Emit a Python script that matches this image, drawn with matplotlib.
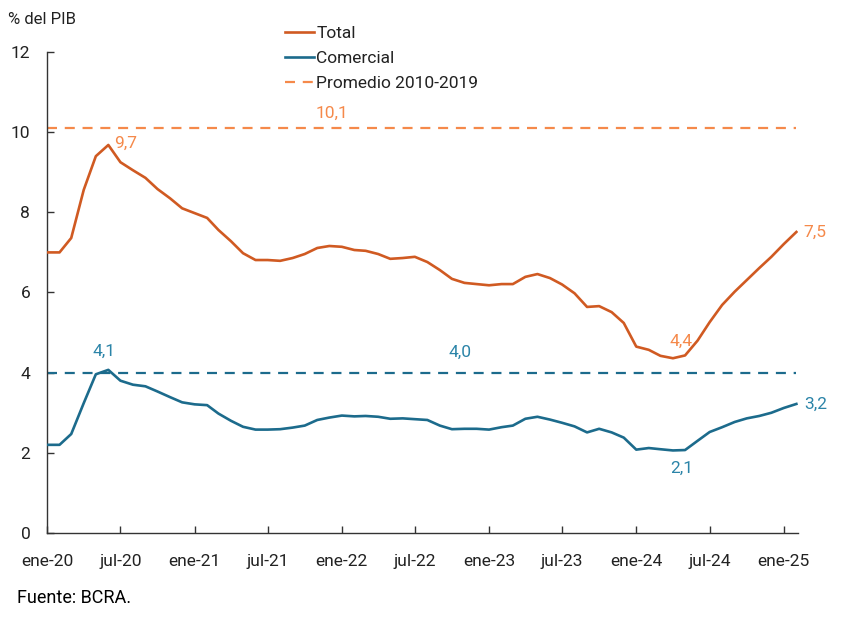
import pandas as pd
import matplotlib.pyplot as plt
import matplotlib.dates as mdates

plt.rcParams['font.family'] = ['Roboto', 'DejaVu Sans']

# monthly data, ene-20 to feb-25
months = pd.date_range('2020-01-01', '2025-02-01', freq='MS')

total = [7.0, 7.0, 7.36, 8.56, 9.4, 9.68, 9.25, 9.05, 8.86, 8.58, 8.35, 8.1,
         7.98, 7.86, 7.56, 7.28, 6.98, 6.81, 6.81, 6.79, 6.86, 6.96, 7.11, 7.16,
         7.14, 7.06, 7.04, 6.96, 6.84, 6.86, 6.89, 6.76, 6.56, 6.34, 6.24, 6.21,
         6.18, 6.21, 6.21, 6.39, 6.46, 6.36, 6.2, 5.98, 5.64, 5.66, 5.51, 5.24,
         4.65, 4.57, 4.42, 4.36, 4.43, 4.8, 5.26, 5.69, 6.02, 6.31, 6.61, 6.89,
         7.21, 7.51]

comercial = [2.2, 2.2, 2.47, 3.24, 3.96, 4.07, 3.8, 3.7, 3.66, 3.53, 3.39, 3.26,
             3.21, 3.19, 2.98, 2.8, 2.65, 2.58, 2.58, 2.59, 2.63, 2.68, 2.82, 2.88,
             2.93, 2.91, 2.92, 2.9, 2.85, 2.86, 2.84, 2.82, 2.68, 2.59, 2.6, 2.6,
             2.58, 2.64, 2.68, 2.85, 2.9, 2.83, 2.75, 2.66, 2.51, 2.6, 2.51, 2.38,
             2.08, 2.12, 2.09, 2.06, 2.07, 2.3, 2.52, 2.64, 2.77, 2.86, 2.92, 3.0,
             3.12, 3.22]

prom_total = 10.1
prom_comercial = 4.0

meses = {1: 'ene', 7: 'jul'}

c_total = '#D05A22'
c_total_l = '#F5894A'
c_com = '#1C6B8C'
c_com_l = '#2B84A8'
c_txt = '#222222'

fig = plt.figure(figsize=(8.52, 6.18), dpi=100)
ax = fig.add_axes([0.0552, 0.1375, 0.8814, 0.7784])

ax.plot(months, total, color=c_total, lw=1.9, label='Total', zorder=3)
ax.plot(months, comercial, color=c_com, lw=1.9, label='Comercial', zorder=3)
ax.plot([months[0], months[-1]], [prom_total] * 2, color=c_total_l, lw=1.6,
        ls=(0, (4.5, 3.5)), label='Promedio 2010-2019')
ax.plot([months[0], months[-1]], [prom_comercial] * 2, color=c_com, lw=1.6,
        ls=(0, (4.5, 3.5)))

ax.set_ylim(0, 12)
ax.set_yticks(range(0, 13, 2))
ax.set_xlim(months[0], months[-1] + pd.Timedelta(days=4))
ax.xaxis.set_major_locator(mdates.MonthLocator(bymonth=[1, 7]))
ax.xaxis.set_major_formatter(
    plt.FuncFormatter(lambda v, p: '%s-%s' % (meses[mdates.num2date(v).month],
                                              mdates.num2date(v).strftime('%y'))))

for s in ['top', 'right']:
    ax.spines[s].set_visible(False)
for s in ['left', 'bottom']:
    ax.spines[s].set_color('#333333')
    ax.spines[s].set_linewidth(1.0)
ax.tick_params(direction='in', length=5, width=1, color='#333333',
               labelsize=12.5, labelcolor=c_txt)
ax.tick_params(axis='x', pad=15)
ax.tick_params(axis='y', pad=12)

# value labels
def lab(i, v, txt, col, dx, dy, ha='left'):
    ax.annotate(txt, (months[i], v), xytext=(dx, dy), textcoords='offset points',
                color=col, fontsize=12.5, ha=ha, va='center')

lab(5, total[5], '9,7', c_total_l, 4, 1)
lab(61, total[61], '7,5', c_total_l, 5, 0)
lab(51, total[51], '4,4', c_total_l, 6, 12, 'center')
lab(5, comercial[5], '4,1', c_com_l, -3, 13, 'center')
lab(61, comercial[61], '3,2', c_com_l, 6, 0)
lab(51, comercial[51], '2,1', c_com_l, 6, -13, 'center')
ax.annotate('10,1', (months[23], prom_total), xytext=(2, 11),
            textcoords='offset points', color=c_total_l, fontsize=12.5, ha='center', va='center')
ax.annotate('4,0', (months[34], prom_comercial), xytext=(-3, 15),
            textcoords='offset points', color=c_com_l, fontsize=12.5, ha='center', va='center')

fig.text(0.009, 0.968, '% del PIB', fontsize=12, color=c_txt, va='center')
fig.text(0.02, 0.032, 'Fuente: BCRA.', fontsize=13, color='black', va='center')

fig.legend(loc='upper left', bbox_to_anchor=(0.326, 0.97), frameon=False,
           fontsize=12.5, handlelength=1.7, handletextpad=0.12, labelspacing=0.58,
           labelcolor=c_txt, borderaxespad=0)

fig.savefig('out.png', dpi=100)
